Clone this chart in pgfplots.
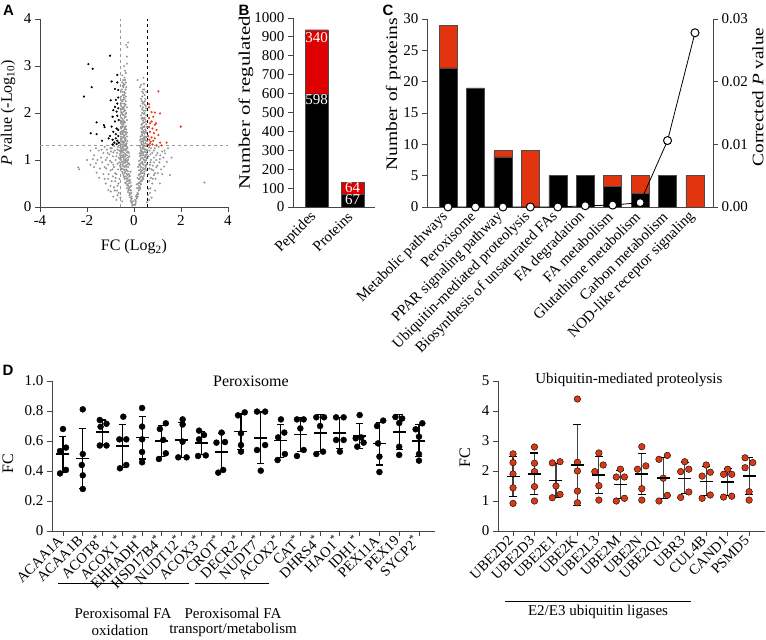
\documentclass[border=0pt]{standalone}
\usepackage{fontspec}
\setmainfont{Liberation Serif}
\newfontfamily\lettfont{Liberation Sans}
\usepackage{pgfplots}
\pgfplotsset{compat=1.18}
\newcommand\fs[1]{\fontsize{#1}{#1}\selectfont}
\definecolor{axc}{RGB}{70,70,70}
\definecolor{redB}{RGB}{222,0,0}
\definecolor{redC}{RGB}{226,52,14}
\definecolor{redD}{RGB}{217,58,22}
\definecolor{redA}{RGB}{232,60,30}
\definecolor{grayA}{RGB}{150,150,150}
\pgfplotsset{gp/.style={scale only axis, anchor=south west,
  axis x line*=bottom, axis y line*=left,
  axis line style={axc, line width=0.9pt},
  tick style={axc, line width=0.9pt}, tick align=outside, major tick length=5pt,
  tick label style={font=\fs{15}}, label style={font=\fs{16}},
  scaled ticks=false,
  /pgf/number format/assume math mode=true}}
\begin{document}
\begin{tikzpicture}
\path[use as bounding box] (0pt,0pt) rectangle (766pt,640pt);
% ---------------- A
\begin{axis}[gp, at={(40pt,433pt)}, width=188pt, height=188pt,
  xmin=-4, xmax=4, ymin=0, ymax=4,
  xtick={-4,-2,0,2,4}, xticklabels={-4,-2,0,2,4},
  ytick={0,1,2,3,4}, yticklabels={0,1,2,3,4},
  xlabel={FC (Log\textsubscript{2})},
  ylabel={\textit{P} value (-Log\textsubscript{10})},
  xlabel style={at={(axis description cs:0.5,-0.213)}, anchor=center},
  ylabel style={at={(axis description cs:-0.17,0.5)}, anchor=center}]
\addplot[only marks, mark=*, mark size=0.8pt, color=grayA, draw=grayA, fill=grayA] coordinates {
(-0.05,0.05) (-0.08,0.1) (-0.12,0.15) (-0.1,0.22) (-0.15,0.28) (-0.2,0.3) (-0.13,0.35) (-0.18,0.42) (-0.25,0.45) (-0.22,0.5) (-0.3,0.55) (-0.17,0.58) (-0.27,0.62) (-0.35,0.65) (-0.22,0.7) (-0.4,0.72) (-0.3,0.78) (-0.45,0.8) (-0.25,0.85) (-0.36,0.88) (-0.5,0.9) (-0.28,0.95) (-0.42,0.98) (-0.55,1.0) (-0.33,1.03) (-0.48,1.07) (-0.3,1.1) (-0.6,1.1) (-0.4,1.14) (-0.52,1.18) (-0.35,1.2) (-0.45,1.25) (-0.58,1.27) (-0.38,1.3) (-0.5,1.33) (-0.42,1.38) (-0.55,1.4) (-0.35,1.43) (-0.47,1.48) (-0.4,1.52) (-0.52,1.55) (-0.36,1.6) (-0.45,1.63) (-0.55,1.67) (-0.4,1.7) (-0.5,1.75) (-0.38,1.8) (-0.46,1.85) (-0.55,1.9) (-0.42,1.95) (-0.5,2.0) (-0.38,2.05) (-0.47,2.1) (-0.55,2.15) (-0.42,2.2) (-0.5,2.25) (-0.4,2.3) (-0.48,2.38) (-0.42,2.45) (-0.52,2.5) (-0.4,2.6) (-0.46,2.7) (-0.35,2.85) (-0.42,3.0) (-0.3,3.2) (-0.28,3.4) (-0.25,3.5) (-0.33,3.45)
(-0.65,0.3) (-0.7,0.45) (-0.8,0.55) (-0.62,0.6) (-0.9,0.65) (-0.75,0.7) (-0.68,0.8) (-1.0,0.78) (-0.85,0.85) (-0.7,0.92) (-1.1,0.9) (-0.95,0.95) (-0.78,1.0) (-0.65,1.05) (-1.2,1.0) (-0.9,1.08) (-1.05,1.12) (-0.72,1.15) (-0.82,1.2) (-1.3,1.15) (-0.95,1.25) (-0.68,1.28) (-1.15,1.22) (-1.4,1.05) (-1.55,1.0) (-1.7,1.1) (-1.62,0.93) (-1.45,0.82) (-1.59,0.73) (-1.3,0.7) (-1.2,0.5) (-1.0,0.45) (-0.99,0.33) (-1.09,0.36) (-0.88,0.22) (-0.75,0.15) (-0.58,0.2) (-0.5,0.12) (-2.37,0.84) (-2.33,0.8) (-1.85,1.2) (-2.0,1.0)
(0.05,0.05) (0.08,0.12) (0.12,0.18) (0.1,0.25) (0.15,0.3) (0.2,0.35) (0.13,0.4) (0.22,0.45) (0.18,0.5) (0.28,0.55) (0.2,0.6) (0.32,0.65) (0.25,0.7) (0.38,0.72) (0.22,0.78) (0.42,0.8) (0.3,0.85) (0.48,0.88) (0.26,0.92) (0.36,0.96) (0.52,1.0) (0.3,1.03) (0.45,1.06) (0.34,1.1) (0.55,1.12) (0.4,1.16) (0.28,1.2) (0.48,1.22) (0.36,1.26) (0.52,1.3) (0.42,1.34) (0.3,1.38) (0.5,1.42) (0.38,1.45) (0.46,1.5) (0.34,1.55) (0.52,1.58) (0.4,1.62) (0.3,1.68) (0.45,1.72) (0.36,1.78) (0.5,1.82) (0.4,1.88) (0.3,1.95) (0.45,2.0) (0.35,2.08) (0.5,2.15) (0.4,2.22) (0.3,2.3) (0.45,2.38) (0.38,2.5) (0.25,2.55) (0.42,2.62) (0.15,2.7) (0.4,2.75)
(0.6,0.25) (0.7,0.4) (0.65,0.55) (0.8,0.6) (0.62,0.7) (0.9,0.72) (0.75,0.8) (0.68,0.9) (1.0,0.88) (0.85,0.95) (0.72,1.0) (1.1,1.02) (0.62,1.08) (0.95,1.1) (0.78,1.15) (1.2,1.18) (0.66,1.2) (0.88,1.25) (1.05,1.28) (1.28,0.86) (1.4,0.96) (1.32,1.14) (1.53,0.68) (3.0,0.52) (1.1,0.5) (0.9,0.35) (1.2,0.7) (0.75,0.2) (0.55,0.1) (1.6,1.05)
(-0.07,0.03) (-0.16,0.2) (-0.24,0.36) (-0.33,0.5) (-0.2,0.65) (-0.4,0.6) (-0.5,0.75) (-0.33,0.8) (-0.57,0.85) (-0.2,0.9) (-0.45,0.93) (-0.62,0.95) (-0.38,1.0) (-0.25,1.05) (-0.55,1.05) (-0.45,1.1) (-0.3,1.16) (-0.62,1.2) (-0.28,1.25) (-0.52,1.22) (-0.44,1.3) (-0.32,1.35) (-0.47,1.4) (-0.58,1.35) (-0.4,1.45) (-0.3,1.5) (-0.55,1.5) (-0.48,1.58) (-0.33,1.65) (-0.5,1.7) (-0.44,1.77) (-0.3,1.85) (-0.52,1.82) (-0.35,1.92) (-0.48,1.96) (-0.44,2.03) (-0.3,2.12) (-0.52,2.08) (-0.36,2.18) (-0.46,2.28) (-0.35,2.35) (-0.55,2.35) (-0.38,2.42) (-0.45,2.55) (-0.35,2.65) (-0.5,2.8) (-0.38,2.9)
(0.02,0.04) (0.16,0.22) (0.25,0.38) (0.3,0.48) (0.4,0.6) (0.15,0.62) (0.45,0.7) (0.3,0.75) (0.52,0.78) (0.18,0.85) (0.4,0.9) (0.55,0.92) (0.22,0.98) (0.43,1.0) (0.25,1.08) (0.5,1.1) (0.3,1.15) (0.45,1.18) (0.57,1.2) (0.4,1.28) (0.25,1.3) (0.55,1.34) (0.35,1.4) (0.45,1.45) (0.28,1.5) (0.55,1.5) (0.38,1.58) (0.48,1.65) (0.32,1.75) (0.55,1.7) (0.42,1.8) (0.35,1.9) (0.52,1.95) (0.42,2.05) (0.28,2.15) (0.46,2.25) (0.35,2.35) (0.52,2.45) (0.3,2.6)
(-0.66,0.5) (-0.78,0.62) (-0.92,0.8) (-1.08,0.7) (-1.25,0.85) (-1.35,0.95) (-1.15,1.05) (-0.98,1.18) (-0.85,1.3) (-1.25,1.28) (-0.72,0.35) (-0.85,0.42) (-1.5,1.2) (-1.62,1.25) (-1.75,1.02) (-1.85,0.9)
(0.62,0.38) (0.72,0.62) (0.82,0.78) (0.95,0.85) (0.7,0.95) (0.85,1.05) (1.0,1.15) (0.72,1.25) (0.92,0.6) (1.15,0.8) (1.25,1.05) (1.45,1.25) (0.65,0.15)
(-0.1,0.08) (-0.14,0.12) (-0.19,0.25) (-0.26,0.32) (-0.3,0.4) (-0.12,0.45) (-0.38,0.52) (-0.2,0.55) (-0.28,0.68) (-0.45,0.68) (-0.36,0.75) (-0.15,0.75) (-0.52,0.82) (-0.4,0.85) (-0.6,0.88) (-0.3,0.9) (-0.48,0.96) (-0.35,0.97) (-0.25,1.0) (-0.6,1.02) (-0.42,1.06) (-0.52,1.1) (-0.36,1.12) (-0.22,1.15) (-0.48,1.16) (-0.58,1.2) (-0.4,1.22) (-0.3,1.28) (-0.5,1.28) (-0.35,1.33) (-0.56,1.32) (-0.45,1.36) (-0.38,1.4) (-0.52,1.45) (-0.44,1.5) (-0.35,1.55) (-0.58,1.58) (-0.42,1.6) (-0.5,1.62) (-0.38,1.68) (-0.47,1.72) (-0.55,1.78) (-0.41,1.82) (-0.5,1.88) (-0.36,1.98) (-0.55,2.02) (-0.45,2.12) (-0.4,2.15) (-0.52,2.2) (-0.44,2.33) (-0.5,2.45) (-0.36,2.5) (-0.44,2.62) (-0.5,2.65) (-0.4,2.75) (-0.3,3.05)
(0.07,0.08) (0.12,0.2) (0.18,0.28) (0.26,0.42) (0.22,0.52) (0.35,0.58) (0.27,0.64) (0.42,0.66) (0.35,0.78) (0.48,0.82) (0.25,0.88) (0.53,0.9) (0.32,0.94) (0.46,0.95) (0.4,1.02) (0.55,1.04) (0.28,1.1) (0.38,1.14) (0.52,1.16) (0.32,1.22) (0.44,1.24) (0.35,1.32) (0.48,1.36) (0.42,1.42) (0.3,1.45) (0.52,1.48) (0.36,1.52) (0.44,1.56) (0.5,1.62) (0.35,1.66) (0.42,1.7) (0.52,1.76) (0.38,1.84) (0.45,1.9) (0.35,2.0) (0.5,2.05) (0.38,2.12) (0.45,2.18) (0.34,2.25) (0.48,2.3) (0.4,2.42) (0.35,2.45)
(-0.7,0.25) (-0.82,0.35) (-0.95,0.55) (-1.1,0.6) (-0.8,0.72) (-1.18,0.82) (-0.88,0.9) (-1.02,0.98) (-0.75,1.08) (-1.12,1.15) (-1.38,1.22) (-0.88,1.16) (-0.7,1.22) (-1.0,1.25) (-1.7,0.85) (-1.48,0.62) (-1.25,0.6) (0.68,0.3) (0.78,0.5) (0.85,0.68) (0.66,0.82) (1.02,0.72) (0.8,0.88) (0.95,1.0) (0.7,1.12) (1.12,1.1) (0.84,1.2) (0.64,1.27) (1.08,0.95) (1.3,1.2)
(-0.04,0.12) (-0.09,0.18) (-0.11,0.3) (-0.17,0.36) (-0.21,0.4) (-0.29,0.47) (-0.14,0.52) (-0.25,0.57) (-0.33,0.6) (-0.42,0.64) (-0.18,0.66) (-0.3,0.7) (-0.48,0.72) (-0.26,0.76) (-0.4,0.79) (-0.55,0.8) (-0.33,0.86) (-0.46,0.87) (-0.23,0.93) (-0.38,0.94) (-0.52,0.96) (-0.3,0.99) (-0.44,1.02) (-0.2,1.08) (-0.37,1.08) (-0.58,1.14) (-0.26,1.18) (-0.46,1.2) (-0.33,1.24) (-0.55,1.24) (-0.41,1.32) (-0.28,1.4) (-0.5,1.38) (-0.37,1.47) (-0.56,1.46) (-0.45,1.54) (-0.3,1.58) (-0.55,1.6) (-0.4,1.66) (-0.52,1.7) (-0.34,1.72) (-0.46,1.8) (-0.56,1.84) (-0.4,1.9) (-0.33,2.0) (-0.52,1.98) (-0.42,2.08) (-0.5,2.12) (-0.35,2.25) (-0.56,2.28) (-0.42,2.38) (-0.33,2.55) (-0.48,2.58) (-0.38,2.7)
(0.04,0.15) (0.09,0.22) (0.14,0.27) (0.19,0.4) (0.12,0.48) (0.28,0.5) (0.33,0.55) (0.24,0.6) (0.38,0.62) (0.2,0.68) (0.3,0.72) (0.44,0.75) (0.28,0.8) (0.38,0.83) (0.5,0.85) (0.22,0.9) (0.36,0.92) (0.48,0.98) (0.27,1.0) (0.35,1.05) (0.5,1.06) (0.42,1.1) (0.24,1.14) (0.34,1.18) (0.55,1.22) (0.4,1.24) (0.28,1.26) (0.46,1.3) (0.32,1.34) (0.4,1.38) (0.55,1.4) (0.25,1.42) (0.42,1.48) (0.32,1.6) (0.47,1.6) (0.38,1.7) (0.48,1.86) (0.32,1.88) (0.42,1.98) (0.52,2.1) (0.36,2.2) (0.44,2.5)
};
\addplot[black!40, dashed, line width=0.8pt] coordinates {(-0.585,0) (-0.585,4)};
\addplot[black, dashed, line width=0.8pt] coordinates {(0.585,0) (0.585,4)};
\addplot[black!40, dashed, line width=0.8pt] coordinates {(-4,1.3) (4,1.3)};
\addplot[only marks, mark=*, mark size=0.9pt, color=black, draw=black, fill=black] coordinates {
(-1.02,3.22) (-1.94,3.04) (-1.76,2.94) (-1.8,2.55) (-2.13,2.35) (-0.95,2.67) (-0.71,2.81) (-0.71,2.65) (-0.81,2.51) (-0.67,2.49) (-0.99,2.27) (-0.77,2.28) (-0.67,2.33) (-0.71,2.2) (-0.81,2.13) (-0.67,2.1) (-0.88,2.06) (-0.74,2.03) (-0.91,1.92) (-0.71,1.94) (-0.65,1.85) (-0.81,1.82) (-1.59,1.8) (-1.28,1.74) (-1.25,1.7) (-0.95,1.71) (-0.74,1.67) (-0.67,1.64) (-1.84,1.57) (-1.59,1.55) (-0.88,1.6) (-0.77,1.55) (-1.02,1.51) (-0.67,1.51) (-1.08,1.46) (-0.77,1.46) (-1.36,1.41) (-0.91,1.43) (-0.71,1.41) (-0.84,1.37) (-0.65,1.37) (-0.91,1.33) (-0.74,1.34)};
\addplot[only marks, mark=*, mark size=0.9pt, color=redA, draw=redA, fill=redA] coordinates {
(1.04,2.46) (0.64,2.19) (0.64,2.12) (0.75,2.02) (0.89,2.01) (1.11,1.99) (0.82,1.92) (0.64,1.89) (0.75,1.82) (0.94,1.78) (1.99,1.71) (0.64,1.7) (0.79,1.67) (0.96,1.64) (0.68,1.6) (0.85,1.57) (1.04,1.53) (0.61,1.51) (0.75,1.48) (0.89,1.46) (0.65,1.43) (0.82,1.41) (1.11,1.37) (1.39,1.37) (0.68,1.35) (0.79,1.33) (0.96,1.31) (1.18,1.31) (0.62,1.32) (0.71,1.39) (0.89,1.75) (0.68,1.78)};
\end{axis}
% ---------------- B
\begin{axis}[gp, at={(293pt,433pt)}, width=82pt, height=189pt,
  ybar stacked, bar width=23pt,
  xmin=-0.653, xmax=1.625, ymin=0, ymax=1000,
  ytick={0,100,...,1000}, yticklabels={0,100,200,300,400,500,600,700,800,900,1000},
  xtick={0,1}, xticklabels={Peptides,Proteins}, x tick style={draw=none},
  xticklabel style={rotate=45, anchor=east},
  ylabel={\scalebox{1.3}[1]{Number of regulated}}, ylabel style={at={(axis description cs:-0.573,0.553)}, anchor=center}]
\addplot[fill=black, draw=black!70] coordinates {(0,598) (1,67)};
\addplot[fill=redB, draw=black!70] coordinates {(0,340) (1,64)};
\end{axis}
\begin{axis}[gp, at={(293pt,433pt)}, width=82pt, height=189pt, hide axis,
  xmin=-0.653, xmax=1.625, ymin=0, ymax=1000,
  point meta=explicit symbolic, nodes near coords,
  every node near coord/.append style={white, anchor=center, font=\fs{15}}]
\addplot[only marks, mark=none, draw=none] coordinates {(0,894) [340] (0,566) [598] (1,100) [64] (1,37) [67]};
\end{axis}
% ---------------- C
\begin{axis}[gp, at={(427pt,433pt)}, width=286pt, height=188pt,
  ybar stacked, bar width=18pt,
  xmin=-0.766, xmax=9.657, ymin=0, ymax=30,
  ytick={0,5,...,30}, yticklabels={0,5,10,15,20,25,30},
  xtick={0,...,9}, x tick style={draw=none},
  xticklabels={Metabolic pathways,Peroxisome,PPAR signaling pathway,Ubiquitin-mediated proteolysis,Biosynthesis of unsaturated FAs,FA degradation,FA metabolism,Glutathione metabolism,Carbon metabolism,NOD-like receptor signaling},
  xticklabel style={rotate=45, anchor=east},
  ylabel={\scalebox{1.22}[1]{Number of proteins}}, ylabel style={at={(axis description cs:-0.118,0.6)}, anchor=center}]
\addplot[fill=black, draw=black!70] coordinates {(0,22.2) (1,19) (2,8) (3,0) (4,5) (5,5) (6,3.3) (7,2.2) (8,5) (9,0)};
\addplot[fill=redC, draw=black!70] coordinates {(0,6.8) (1,0) (2,1) (3,9) (4,0) (5,0) (6,1.7) (7,2.8) (8,0) (9,5)};
\end{axis}
\begin{axis}[gp, at={(427pt,433pt)}, width=286pt, height=188pt,
  axis x line=none, axis y line*=right,
  xmin=-0.766, xmax=9.657, ymin=0, ymax=0.03,
  ytick={0,0.01,0.02,0.03}, yticklabels={0.00,0.01,0.02,0.03},
  ylabel={\scalebox{1.2}[1]{Corrected \textit{P} value}}, ylabel style={at={(axis description cs:1.157,0.585)}, anchor=center},
  clip=false]
\addplot[black, line width=0.8pt, mark=*, mark size=4pt, mark options={fill=white, draw=black, line width=1pt}] coordinates {(0,0) (1,0) (2,0) (3,0) (4,0) (5,0.0002) (6,0.0003) (7,0.0007) (8,0.0106) (9,0.0278)};
\end{axis}
% ---------------- D left
\begin{axis}[gp, at={(52pt,109pt)}, width=383pt, height=150pt,
  xmin=-0.556, xmax=18.81, ymin=0, ymax=1,
  ytick={0,0.2,0.4,0.6,0.8,1}, yticklabels={0,0.2,0.4,0.6,0.8,1.0},
  xtick={0,...,18},
  xticklabels={ACAA1A,ACAA1B,ACOT8\textsuperscript{*},ACOX1\textsuperscript{*},EHHADH\textsuperscript{*},HSD17B4\textsuperscript{*},NUDT12\textsuperscript{*},ACOX3\textsuperscript{*},CROT\textsuperscript{*},DECR2\textsuperscript{*},NUDT7\textsuperscript{*},ACOX2\textsuperscript{*},CAT\textsuperscript{*},DHRS4\textsuperscript{*},HAO1\textsuperscript{*},IDH1\textsuperscript{*},PEX11A,PEX19,SYCP2\textsuperscript{*}},
  xticklabel style={rotate=45, anchor=east, font=\fs{14.5}},
  ylabel={FC}, ylabel style={at={(axis description cs:-0.115,0.45)}, anchor=center},
  clip=false]
\addplot[only marks, mark=*, mark size=3pt, mark options={draw=none, fill=black}] coordinates {
(0,0.68) (-0.15,0.533) (0.15,0.556) (-0.15,0.384) (0.15,0.407)
(1,0.811) (1,0.513) (0.95,0.44) (1,0.371) (1,0.28)
(1.86,0.74) (2.2,0.715) (1.9,0.695) (1.86,0.57) (2.2,0.57)
(3.05,0.762) (2.85,0.611) (3.2,0.611) (3.2,0.44) (2.88,0.418)
(4,0.82) (4,0.696) (4,0.611) (4,0.527) (4,0.458)
(5.2,0.718) (4.9,0.68) (5.07,0.607) (5.2,0.518) (4.85,0.48)
(6.05,0.744) (6.05,0.71) (6.05,0.596) (5.83,0.491) (6.25,0.491)
(6.88,0.669) (7.13,0.64) (6.88,0.611) (6.83,0.50) (7.22,0.504)
(8.02,0.656) (7.76,0.589) (8.19,0.593) (8.1,0.407) (7.85,0.389)
(8.85,0.771) (9.19,0.791) (9,0.651) (9,0.573) (9,0.529)
(9.81,0.796) (10.22,0.796) (10.22,0.573) (9.81,0.54) (10,0.402)
(11.02,0.744) (11.19,0.656) (10.88,0.624) (11.22,0.513) (10.85,0.473)
(11.83,0.744) (12.17,0.744) (12,0.684) (12.17,0.54) (11.83,0.50)
(12.81,0.758) (13.2,0.758) (13,0.70) (13.15,0.529) (12.81,0.513)
(13.81,0.758) (14.19,0.758) (13.81,0.607) (14.19,0.607) (14,0.529)
(15,0.773) (14.8,0.618) (15.08,0.624) (15.2,0.589) (14.88,0.562)
(15.88,0.70) (16.19,0.736) (15.93,0.584) (16,0.496) (16,0.393)
(16.81,0.76) (17.15,0.75) (17,0.72) (17,0.562) (17,0.507)
(18.17,0.718) (17.83,0.678) (18,0.629) (18,0.513) (18,0.469)};
\addplot[only marks, mark=-, mark size=6.5pt, mark options={line width=1.6pt, black},
  error bars/.cd, y dir=both, y explicit, error mark=-,
  error mark options={rotate=90, mark size=3.5pt, line width=1.1pt, black},
  error bar style={line width=1.1pt, black}]
  table[x=x, y=m, y error=s] {
x m s
0 0.512 0.120
1 0.483 0.202
2 0.658 0.082
3 0.568 0.142
4 0.622 0.142
5 0.601 0.102
6 0.606 0.119
7 0.585 0.078
8 0.527 0.121
9 0.663 0.117
10 0.621 0.172
11 0.602 0.110
12 0.642 0.115
13 0.652 0.122
14 0.652 0.102
15 0.633 0.082
16 0.582 0.142
17 0.660 0.117
18 0.601 0.107
};
\node[font=\fs{16}] at (axis cs:9.5,1.0) {Peroxisome};
\end{axis}
% ---------------- D right
\begin{axis}[gp, at={(498pt,109pt)}, width=267pt, height=150pt,
  xmin=-0.70, xmax=11.74, ymin=0, ymax=5,
  ytick={0,1,2,3,4,5}, yticklabels={0,1,2,3,4,5},
  xtick={0,...,11},
  xticklabels={UBE2D2,UBE2D3,UBE2E1,UBE2K,UBE2L3,UBE2M,UBE2N,UBE2Q1,UBR3,CUL4B,CAND1,PSMD5},
  xticklabel style={rotate=45, anchor=east, font=\fs{14.5}},
  ylabel={FC}, ylabel style={at={(axis description cs:-0.124,0.49)}, anchor=center},
  clip=false]
\addplot[only marks, mark=*, mark size=3.3pt, mark options={draw=none, fill=redD}] coordinates {
(0,2.57) (0,2.28) (0,1.9) (0,1.44) (0,0.92)
(1,2.8) (1,2.26) (1,1.98) (1,1.48) (1,1.0)
(1.83,2.27) (2.19,2.31) (2,1.5) (1.83,1.11) (2.19,1.22)
(3,4.4) (3,2.29) (3,2.0) (3,1.33) (3,0.94)
(4,2.6) (4.2,2.2) (3.81,1.98) (4,1.51) (4,1.03)
(5,2.06) (4.81,1.8) (5.19,1.8) (4.81,1.0) (5.19,1.09)
(6,2.81) (5.8,2.06) (6.19,2.17) (6,1.41) (6,1.03)
(6.8,2.39) (7.19,2.52) (7,1.76) (6.8,1.0) (7.19,1.19)
(8,2.31) (7.81,1.98) (8.19,2.06) (7.81,1.12) (8.19,1.3)
(9,2.2) (8.81,1.83) (9.19,1.96) (8.81,1.09) (9.19,1.2)
(10,2.06) (9.81,1.89) (10.19,1.89) (9.81,1.13) (10.19,1.16)
(10.81,2.44) (11.17,2.28) (10.81,2.11) (11,1.31) (11,1.03)};
\addplot[only marks, mark=-, mark size=6.5pt, mark options={line width=1.6pt, black},
  error bars/.cd, y dir=both, y explicit, error mark=-,
  error mark options={rotate=90, mark size=4pt, line width=1.1pt, black},
  error bar style={line width=1.1pt, black!75}]
  table[x=x, y=m, y error=s] {
x m s
0 1.822 0.659
1 1.904 0.695
2 1.682 0.573
3 2.192 1.345
4 1.864 0.610
5 1.550 0.474
6 1.896 0.693
7 1.772 0.685
8 1.754 0.515
9 1.656 0.486
10 1.626 0.445
11 1.834 0.625
};
\node[font=\fs{15}] at (axis cs:5.4,5.05) {Ubiquitin-mediated proteolysis};
\end{axis}
% ---------------- annotations
\draw[black, line width=0.9pt] (58pt,57pt) -- (189pt,57pt);
\draw[black, line width=0.9pt] (195pt,57pt) -- (269pt,57pt);
\node[font=\fs{15}] at (123pt,27pt) {Peroxisomal FA};
\node[font=\fs{15}] at (120pt,10pt) {oxidation};
\node[font=\fs{15}] at (233pt,27pt) {Peroxisomal FA};
\node[font=\fs{15}] at (233pt,10pt) {transport/metabolism};
\draw[black, line width=0.9pt] (505pt,39pt) -- (691pt,39pt);
\node[font=\fs{15}] at (598pt,28pt) {E2/E3 ubiquitin ligases};
\node[font=\lettfont\bfseries\fs{15}] at (8.5pt,630pt) {A};
\node[font=\lettfont\bfseries\fs{15}] at (244pt,630pt) {B};
\node[font=\lettfont\bfseries\fs{15}] at (388pt,630pt) {C};
\node[font=\lettfont\bfseries\fs{15}] at (8pt,270pt) {D};
\end{tikzpicture}
\end{document}
